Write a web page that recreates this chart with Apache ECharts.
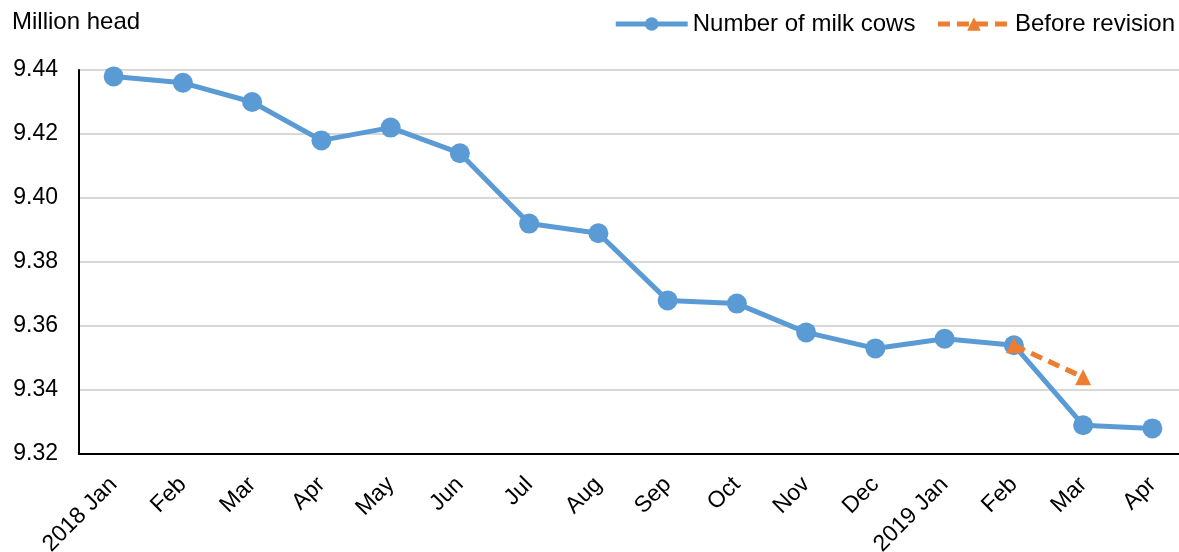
<!DOCTYPE html>
<html>
<head>
<meta charset="utf-8">
<script src="https://cdn.jsdelivr.net/npm/echarts@6/dist/echarts.min.js"></script>
<style>html,body{margin:0;padding:0;background:#fff}#c{width:1179px;height:552px}</style>
</head>
<body>
<div id="c"></div>
<script>
const categories = ['2018 Jan','Feb','Mar','Apr','May','Jun','Jul','Aug','Sep','Oct','Nov','Dec','2019 Jan','Feb','Mar','Apr'];
const milkCows = [9.438,9.436,9.430,9.418,9.422,9.414,9.392,9.389,9.368,9.367,9.358,9.353,9.356,9.354,9.329,9.328];
const beforeRevision = [null,null,null,null,null,null,null,null,null,null,null,null,null,9.354,9.344,null];
const yTicks = {min:9.32, max:9.44, interval:0.02};

const chart = echarts.init(document.getElementById('c'));
const font = 'Liberation Sans, Arial, sans-serif';
chart.setOption({
  animation:false,
  textStyle:{fontFamily:font},
  title:{text:'Million head', left:7, top:5, textStyle:{fontFamily:font, fontSize:24, fontWeight:'normal', color:'#000'}},
  legend:{
    right:-1, top:7, itemGap:20, itemWidth:72, itemHeight:17,
    textStyle:{fontFamily:font, fontSize:24, color:'#000'},
    lineStyle:{width:5},
    data:['Number of milk cows','Before revision']
  },
  grid:{left:79, right:-8, top:70, bottom:98, containLabel:false, outerBoundsMode:'none'},
  xAxis:{
    type:'category', data:categories, boundaryGap:true,
    axisLine:{lineStyle:{color:'#000', width:2}},
    axisTick:{show:false},
    axisLabel:{rotate:45, fontSize:23, color:'#000', margin:27, fontFamily:font, interval:0}
  },
  yAxis:{
    type:'value', min:yTicks.min, max:yTicks.max, interval:yTicks.interval,
    axisLine:{show:true, lineStyle:{color:'#000', width:2}},
    axisTick:{show:false},
    splitLine:{lineStyle:{color:'#d9d9d9', width:2}},
    axisLabel:{fontSize:23, color:'#000', margin:21, fontFamily:font, formatter:v=>v.toFixed(2)}
  },
  series:[
    {name:'Number of milk cows', type:'line', data:milkCows, symbol:'circle', symbolSize:20,
     lineStyle:{color:'#5b9bd5', width:5}, itemStyle:{color:'#5b9bd5'}, z:2},
    {name:'Before revision', type:'line', data:beforeRevision, symbol:'triangle', symbolSize:16,
     lineStyle:{color:'#ed7d31', width:5, type:[12,7]}, itemStyle:{color:'#ed7d31'}, z:3}
  ]
});
</script>
</body>
</html>
